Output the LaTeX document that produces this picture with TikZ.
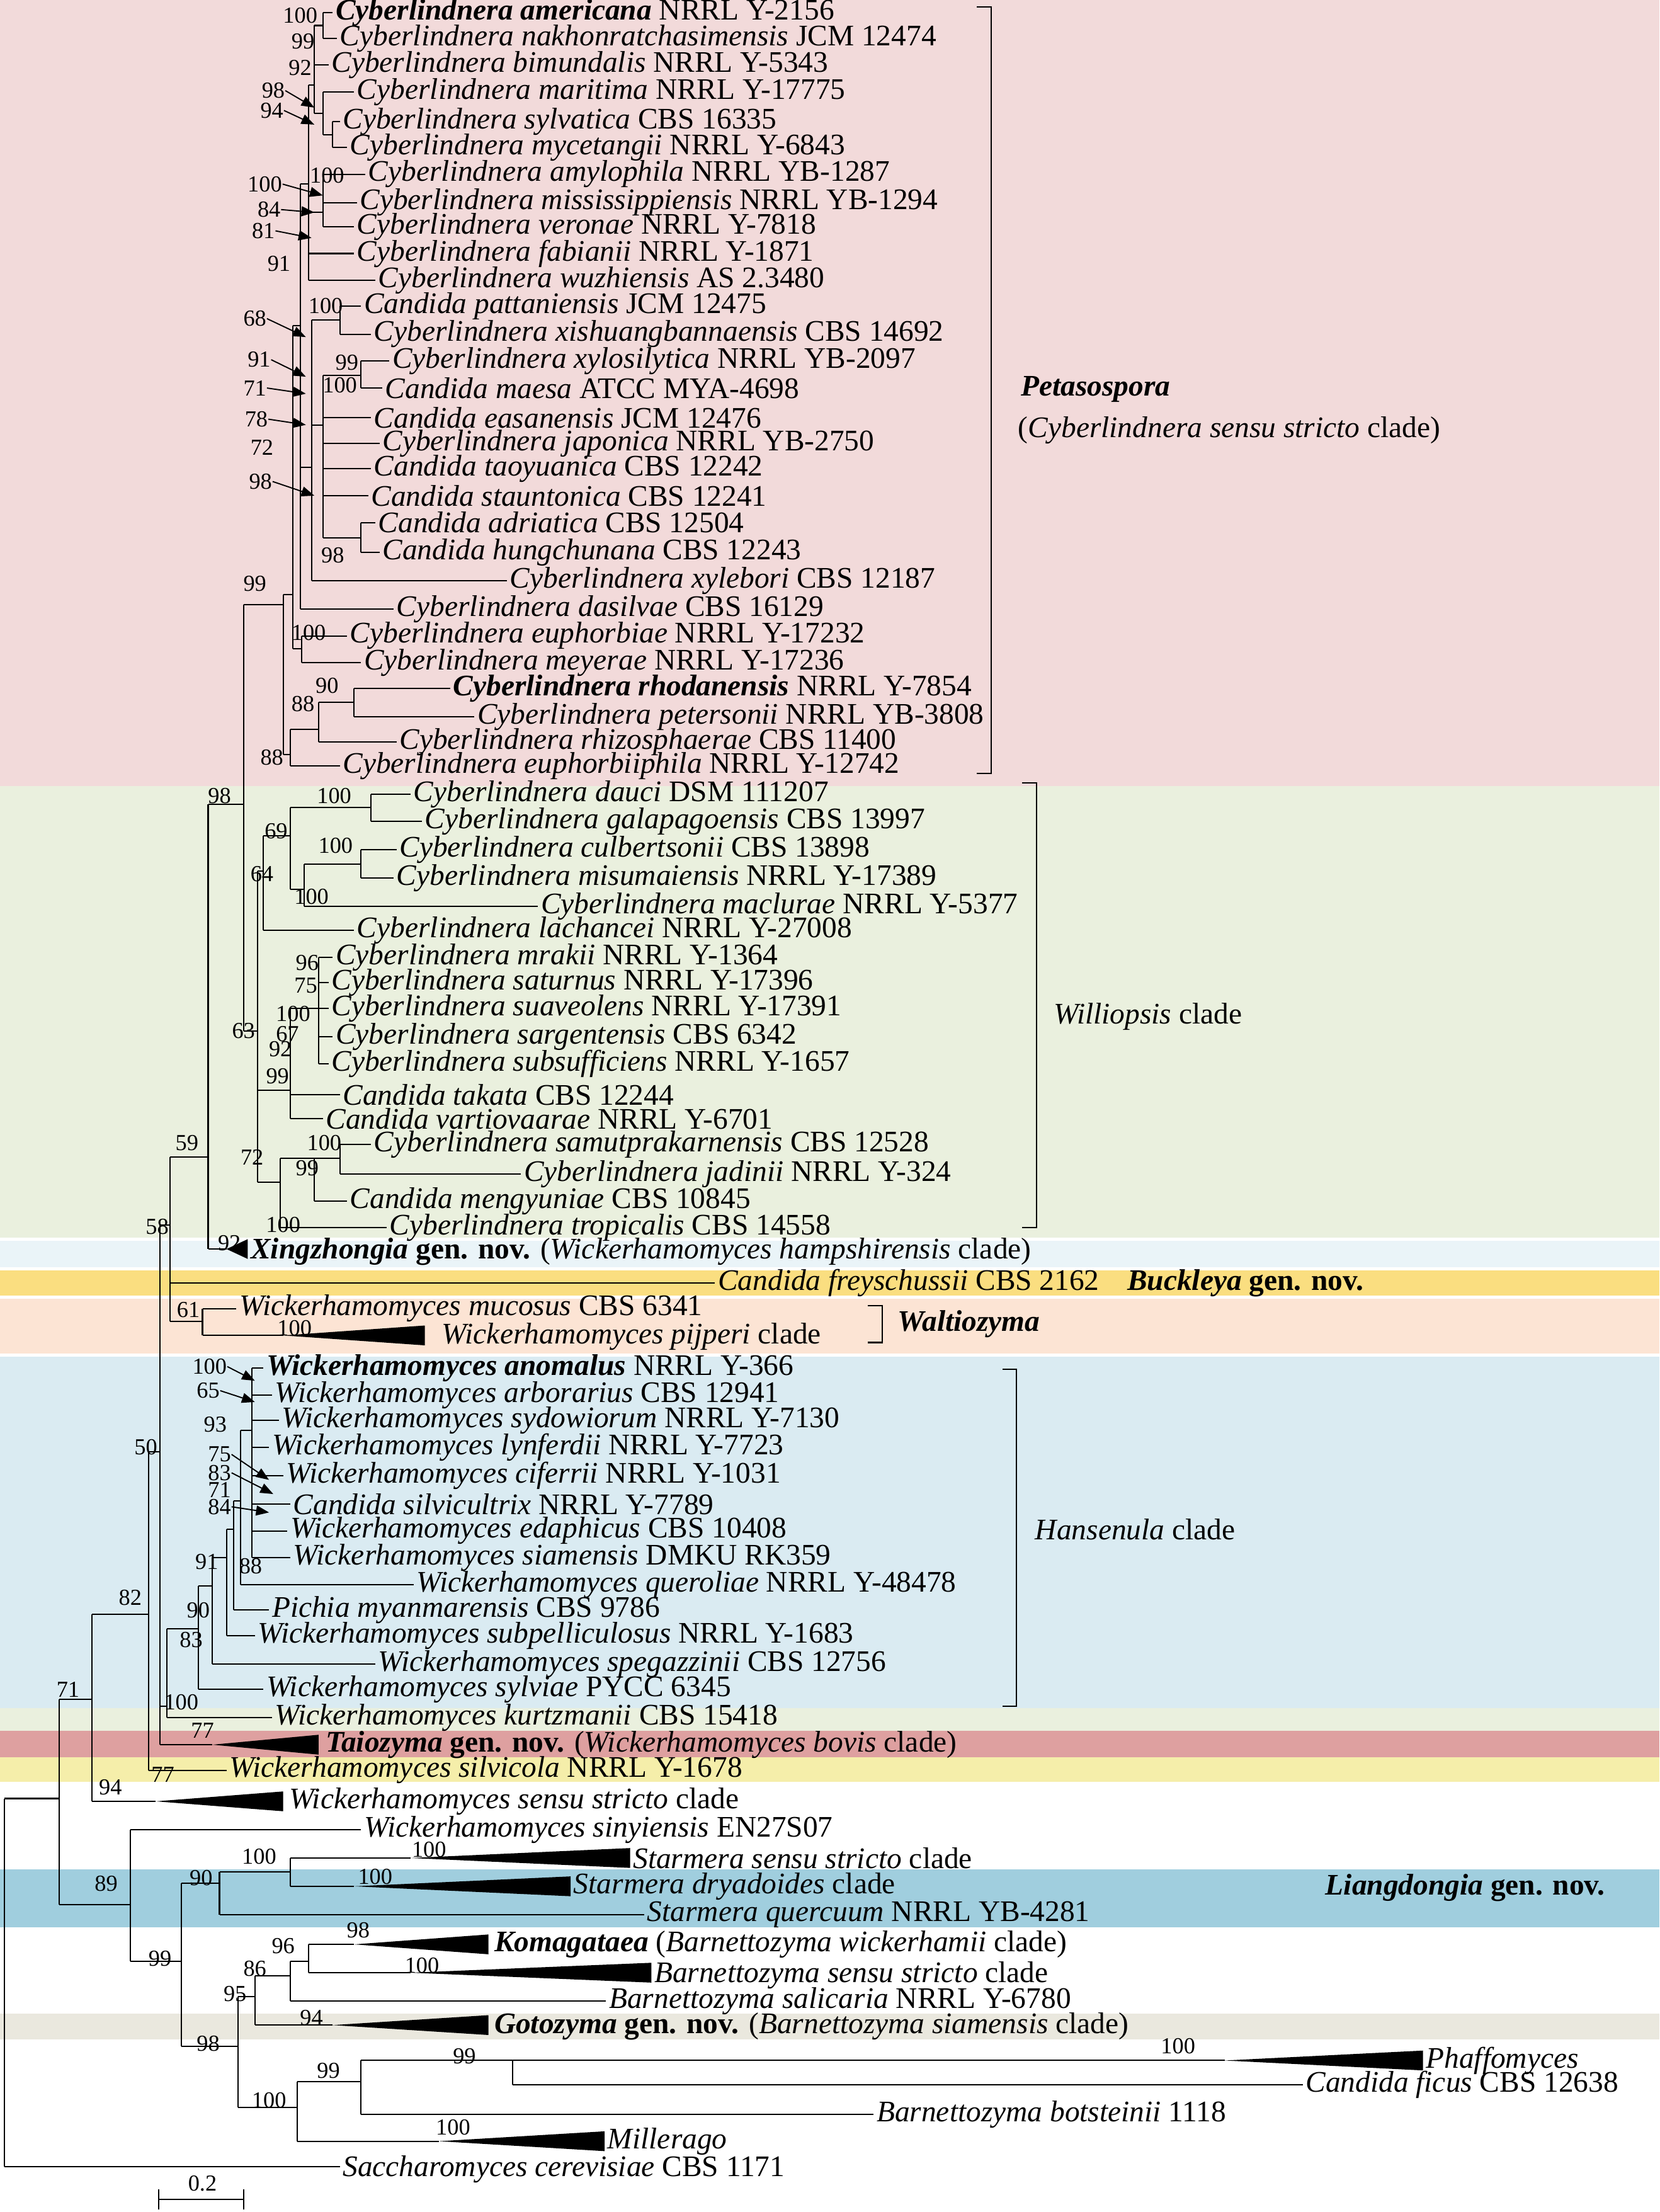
\documentclass[tikz,border=0pt]{standalone}
\usepackage{fontspec}
\setmainfont{Liberation Serif}
\usetikzlibrary{arrows.meta}
\definecolor{pinkbg}{RGB}{242,218,218}
\definecolor{greenbg}{RGB}{234,240,222}
\definecolor{xingbg}{RGB}{234,244,248}
\definecolor{buckbg}{RGB}{250,222,128}
\definecolor{peachbg}{RGB}{252,228,212}
\definecolor{bluebg}{RGB}{218,235,242}
\definecolor{redbg}{RGB}{222,160,160}
\definecolor{yelbg}{RGB}{245,238,170}
\definecolor{liangbg}{RGB}{160,206,222}
\definecolor{gotobg}{RGB}{234,232,222}
\newcommand\vln[3]{\draw (#1,#2)--(#1,#3);}
\newcommand\hln[3]{\draw (#1,#3)--(#2,#3);}
\newcommand\tri[3]{\fill (#1,#3)--(#2,#3-7)--(#2,#3+7)--cycle;}
\newcommand\tp[4]{\node[tip] (#1) at (#2+1,#3) {#4};}
\newcommand\bs[4]{\node[supp] (#1) at (#2,#3) {#4};}
\newcommand\spn[2]{\textit{#1} #2}
\newcommand\spb[2]{\textbf{\textit{#1}} #2}
\begin{document}
\begin{tikzpicture}[x=0.05cm,y=-0.05cm,line width=1.3pt,
  every node/.style={font=\fontsize{30}{32}\selectfont},
  tip/.style={anchor=west,inner sep=1pt},
  supp/.style={font=\fontsize{23}{25}\selectfont,inner sep=0pt},
  lab/.style={anchor=west,inner sep=1pt},
  arr/.style={-{Triangle[length=13pt,width=10pt]},line width=1.2pt}]
\useasboundingbox (0,0) rectangle (1172,1562);
% backgrounds
\fill[pinkbg] (0,0) rectangle (1172,555);
\fill[greenbg] (0,555) rectangle (1172,874);
\fill[xingbg] (0,876) rectangle (1172,895);
\fill[buckbg] (0,897) rectangle (1172,915);
\fill[peachbg] (0,917) rectangle (1172,956);
\fill[bluebg] (0,958) rectangle (1172,1206);
\fill[greenbg] (0,1206) rectangle (1172,1222);
\fill[redbg] (0,1222) rectangle (1172,1241);
\fill[yelbg] (0,1241) rectangle (1172,1258);
\fill[liangbg] (0,1320) rectangle (1172,1361);
\fill[gotobg] (0,1422) rectangle (1172,1440);
% backbone
\vln{3}{1270}{1530}\hln{3}{240}{1530}\hln{3}{42}{1270}
\vln{42}{1200}{1345}\hln{42}{65}{1200}\hln{42}{92}{1345}
\vln{65}{1140}{1272}\hln{65}{105}{1140}\hln{65}{110}{1272}\tri{110}{200}{1272}
\vln{105}{1025}{1250}\hln{105}{113}{1025}\hln{105}{160}{1250}
\vln{113}{865}{1232}\hln{113}{120}{865}\hln{113}{118}{1205}\hln{113}{150}{1232}\tri{150}{225}{1232}
\vln{120}{817}{933}\hln{120}{147}{817}\hln{120}{505}{906}\hln{120}{143}{933}
\vln{143}{924}{943}\hln{143}{167}{924}\hln{143}{200}{943}\tri{200}{300}{943}
\vln{147}{568}{882}\hln{147}{172}{568}\hln{147}{160}{882}\tri{160}{175}{882}
\vln{172}{427}{728}\hln{172}{200}{427}\hln{172}{182}{728}
% Petasospora
\vln{200}{420}{533}\hln{200}{207}{420}\hln{200}{205}{533}
\vln{205}{515}{541}\hln{205}{240}{541}\hln{205}{225}{515}
\vln{225}{496}{524}\hln{225}{280}{524}\hln{225}{250}{496}
\vln{250}{486}{506}\hln{250}{318}{486}\hln{250}{335}{506}
\vln{207}{230}{458}\hln{207}{213}{458}\hln{207}{212}{230}
\vln{213}{449}{468}\hln{213}{245}{449}\hln{213}{255}{468}
\vln{212}{130}{430}\hln{212}{278}{430}\hln{212}{218}{130}\hln{212}{220}{330}
\vln{218}{60}{198}\hln{218}{222}{60}\hln{218}{228}{150}\hln{218}{250}{179}\hln{218}{265}{198}
\vln{222}{18}{80}\hln{222}{228}{18}\hln{222}{232}{46}\hln{222}{228}{80}
\vln{228}{9}{27}\hln{228}{235}{9}\hln{228}{238}{27}
\vln{228}{65}{95}\hln{228}{250}{65}\hln{228}{235}{95}
\vln{235}{86}{104}\hln{235}{240}{86}\hln{235}{245}{104}
\vln{228}{123}{160}\hln{228}{258}{123}\hln{228}{252}{143}\hln{228}{250}{160}
\vln{220}{226}{410}\hln{220}{240}{226}\hln{220}{228}{300}\hln{220}{358}{410}
\vln{240}{216}{236}\hln{240}{255}{216}\hln{240}{262}{236}
\vln{228}{265}{380}\hln{228}{255}{265}\hln{228}{262}{295}\hln{228}{268}{313}\hln{228}{262}{331}\hln{228}{260}{350}\hln{228}{255}{380}
\vln{255}{255}{274}\hln{255}{275}{255}\hln{255}{270}{274}
\vln{255}{369}{390}\hln{255}{265}{369}\hln{255}{268}{390}
% Williopsis
\vln{182}{615}{835}\hln{182}{186}{615}\hln{182}{205}{770}\hln{182}{198}{835}
\vln{186}{590}{657}\hln{186}{205}{590}\hln{186}{250}{657}
\vln{205}{570}{628}\hln{205}{262}{570}\hln{205}{215}{628}
\vln{262}{561}{580}\hln{262}{290}{561}\hln{262}{298}{580}
\vln{215}{610}{640}\hln{215}{255}{610}\hln{215}{380}{640}
\vln{255}{600}{620}\hln{255}{280}{600}\hln{255}{278}{620}
\vln{205}{712}{790}\hln{205}{225}{712}\hln{205}{240}{773}\hln{205}{228}{790}
\vln{225}{676}{751}\hln{225}{235}{676}\hln{225}{232}{694}\hln{225}{232}{712}\hln{225}{235}{732}\hln{225}{232}{751}
\vln{198}{818}{867}\hln{198}{240}{818}\hln{198}{273}{867}
\vln{222}{818}{848}\hln{222}{245}{848}
\vln{240}{808}{829}\hln{240}{262}{808}\hln{240}{368}{829}
% Hansenula
\vln{118}{1150}{1213}\hln{118}{192}{1213}\hln{118}{140}{1150}
\vln{140}{1120}{1193}\hln{140}{186}{1193}\hln{140}{150}{1120}
\vln{150}{1100}{1175}\hln{150}{265}{1175}\hln{150}{160}{1100}
\vln{160}{1080}{1155}\hln{160}{180}{1155}\hln{160}{165}{1080}
\vln{165}{1060}{1137}\hln{165}{190}{1137}\hln{165}{170}{1060}
\vln{170}{1010}{1119}\hln{170}{292}{1119}\hln{170}{178}{1010}
\vln{178}{966}{1100}\hln{178}{186}{966}\hln{178}{192}{985}\hln{178}{197}{1003}\hln{178}{190}{1022}\hln{178}{200}{1042}\hln{178}{205}{1062}\hln{178}{203}{1081}\hln{178}{205}{1100}
% lower part
\vln{92}{1292}{1385}\hln{92}{255}{1292}\hln{92}{128}{1385}
\vln{128}{1330}{1445}\hln{128}{155}{1330}\hln{128}{168}{1445}
\vln{155}{1322}{1352}\hln{155}{205}{1322}\hln{155}{455}{1352}
\vln{205}{1312}{1332}\hln{205}{290}{1312}\tri{290}{445}{1312}\hln{205}{250}{1332}\tri{250}{403}{1332}
\vln{168}{1410}{1488}\hln{168}{180}{1410}\hln{168}{210}{1488}
\vln{180}{1395}{1430}\hln{180}{205}{1395}\hln{180}{235}{1430}\tri{235}{345}{1430}
\vln{205}{1385}{1413}\hln{205}{218}{1385}\hln{205}{428}{1413}
\vln{218}{1373}{1393}\hln{218}{250}{1373}\tri{250}{345}{1373}\hln{218}{290}{1393}\tri{290}{460}{1393}
\vln{210}{1470}{1512}\hln{210}{255}{1470}\hln{210}{310}{1512}\tri{310}{427}{1512}
\vln{255}{1455}{1493}\hln{255}{362}{1455}\hln{255}{617}{1493}
\vln{362}{1455}{1472}\hln{362}{865}{1455}\tri{865}{1005}{1455}\hln{362}{920}{1472}
% tips Petasospora
\tp{t1}{235}{9}{\spb{Cyberlindnera americana}{NRRL Y-2156}}
\tp{t2}{238}{27}{\spn{Cyberlindnera nakhonratchasimensis}{JCM 12474}}
\tp{t3}{232}{46}{\spn{Cyberlindnera bimundalis}{NRRL Y-5343}}
\tp{t4}{250}{65}{\spn{Cyberlindnera maritima}{NRRL Y-17775}}
\tp{t5}{240}{86}{\spn{Cyberlindnera sylvatica}{CBS 16335}}
\tp{t6}{245}{104}{\spn{Cyberlindnera mycetangii}{NRRL Y-6843}}
\tp{t7}{258}{123}{\spn{Cyberlindnera amylophila}{NRRL YB-1287}}
\tp{t8}{252}{143}{\spn{Cyberlindnera mississippiensis}{NRRL YB-1294}}
\tp{t9}{250}{160}{\spn{Cyberlindnera veronae}{NRRL Y-7818}}
\tp{t10}{250}{179}{\spn{Cyberlindnera fabianii}{NRRL Y-1871}}
\tp{t11}{265}{198}{\spn{Cyberlindnera wuzhiensis}{AS 2.3480}}
\tp{t12}{255}{216}{\spn{Candida pattaniensis}{JCM 12475}}
\tp{t13}{262}{236}{\spn{Cyberlindnera xishuangbannaensis}{CBS 14692}}
\tp{t14}{275}{255}{\spn{Cyberlindnera xylosilytica}{NRRL YB-2097}}
\tp{t15}{270}{274}{\spn{Candida maesa}{ATCC MYA-4698}}
\tp{t16}{262}{295}{\spn{Candida easanensis}{JCM 12476}}
\tp{t17}{268}{313}{\spn{Cyberlindnera japonica}{NRRL YB-2750}}
\tp{t18}{262}{331}{\spn{Candida taoyuanica}{CBS 12242}}
\tp{t19}{260}{350}{\spn{Candida stauntonica}{CBS 12241}}
\tp{t20}{265}{369}{\spn{Candida adriatica}{CBS 12504}}
\tp{t21}{268}{390}{\spn{Candida hungchunana}{CBS 12243}}
\tp{t22}{358}{410}{\spn{Cyberlindnera xylebori}{CBS 12187}}
\tp{t23}{278}{430}{\spn{Cyberlindnera dasilvae}{CBS 16129}}
\tp{t24}{245}{449}{\spn{Cyberlindnera euphorbiae}{NRRL Y-17232}}
\tp{t25}{255}{468}{\spn{Cyberlindnera meyerae}{NRRL Y-17236}}
\tp{t26}{318}{486}{\spb{Cyberlindnera rhodanensis}{NRRL Y-7854}}
\tp{t27}{335}{506}{\spn{Cyberlindnera petersonii}{NRRL YB-3808}}
\tp{t28}{280}{524}{\spn{Cyberlindnera rhizosphaerae}{CBS 11400}}
\tp{t29}{240}{541}{\spn{Cyberlindnera euphorbiiphila}{NRRL Y-12742}}
% tips Williopsis
\tp{w1}{290}{561}{\spn{Cyberlindnera dauci}{DSM 111207}}
\tp{w2}{298}{580}{\spn{Cyberlindnera galapagoensis}{CBS 13997}}
\tp{w3}{280}{600}{\spn{Cyberlindnera culbertsonii}{CBS 13898}}
\tp{w4}{278}{620}{\spn{Cyberlindnera misumaiensis}{NRRL Y-17389}}
\tp{w5}{380}{640}{\spn{Cyberlindnera maclurae}{NRRL Y-5377}}
\tp{w6}{250}{657}{\spn{Cyberlindnera lachancei}{NRRL Y-27008}}
\tp{w7}{235}{676}{\spn{Cyberlindnera mrakii}{NRRL Y-1364}}
\tp{w8}{232}{694}{\spn{Cyberlindnera saturnus}{NRRL Y-17396}}
\tp{w9}{232}{712}{\spn{Cyberlindnera suaveolens}{NRRL Y-17391}}
\tp{w10}{235}{732}{\spn{Cyberlindnera sargentensis}{CBS 6342}}
\tp{w11}{232}{751}{\spn{Cyberlindnera subsufficiens}{NRRL Y-1657}}
\tp{w12}{240}{773}{\spn{Candida takata}{CBS 12244}}
\tp{w13}{228}{790}{\spn{Candida vartiovaarae}{NRRL Y-6701}}
\tp{w14}{262}{808}{\spn{Cyberlindnera samutprakarnensis}{CBS 12528}}
\tp{w15}{368}{829}{\spn{Cyberlindnera jadinii}{NRRL Y-324}}
\tp{w16}{245}{848}{\spn{Candida mengyuniae}{CBS 10845}}
\tp{w17}{273}{867}{\spn{Cyberlindnera tropicalis}{CBS 14558}}
% middle
\tp{x1}{175}{884}{\textbf{\textit{Xingzhongia} gen. nov.} (\textit{Wickerhamomyces hampshirensis} clade)}
\tp{x2}{505}{906}{\spn{Candida freyschussii}{CBS 2162}}
\node[lab] (buck) at (795,906) {\textbf{\textit{Buckleya} gen. nov.}};
\tp{x3}{167}{924}{\spn{Wickerhamomyces mucosus}{CBS 6341}}
\tp{x4}{310}{944}{\textit{Wickerhamomyces pijperi} clade}
% Hansenula tips
\tp{h1}{186}{966}{\spb{Wickerhamomyces anomalus}{NRRL Y-366}}
\tp{h2}{192}{985}{\spn{Wickerhamomyces arborarius}{CBS 12941}}
\tp{h3}{197}{1003}{\spn{Wickerhamomyces sydowiorum}{NRRL Y-7130}}
\tp{h4}{190}{1022}{\spn{Wickerhamomyces lynferdii}{NRRL Y-7723}}
\tp{h5}{200}{1042}{\spn{Wickerhamomyces ciferrii}{NRRL Y-1031}}
\tp{h6}{205}{1062}{\spn{Candida silvicultrix}{NRRL Y-7789}}
\tp{h7}{203}{1081}{\spn{Wickerhamomyces edaphicus}{CBS 10408}}
\tp{h8}{205}{1100}{\spn{Wickerhamomyces siamensis}{DMKU RK359}}
\tp{h9}{292}{1119}{\spn{Wickerhamomyces queroliae}{NRRL Y-48478}}
\tp{h10}{190}{1137}{\spn{Pichia myanmarensis}{CBS 9786}}
\tp{h11}{180}{1155}{\spn{Wickerhamomyces subpelliculosus}{NRRL Y-1683}}
\tp{h12}{265}{1175}{\spn{Wickerhamomyces spegazzinii}{CBS 12756}}
\tp{h13}{186}{1193}{\spn{Wickerhamomyces sylviae}{PYCC 6345}}
\tp{h14}{192}{1213}{\spn{Wickerhamomyces kurtzmanii}{CBS 15418}}
\tp{l1}{228}{1232}{\textbf{\textit{Taiozyma} gen. nov.} (\textit{Wickerhamomyces bovis} clade)}
\tp{l2}{160}{1250}{\spn{Wickerhamomyces silvicola}{NRRL Y-1678}}
\tp{l3}{202}{1272}{\textit{Wickerhamomyces sensu stricto} clade}
\tp{l4}{255}{1292}{\spn{Wickerhamomyces sinyiensis}{EN27S07}}
\tp{l5}{445}{1312}{\textit{Starmera sensu stricto} clade}
\tp{l6}{403}{1332}{\textit{Starmera dryadoides} clade}
\tp{l7}{455}{1352}{\spn{Starmera quercuum}{NRRL YB-4281}}
\node[lab] (liang) at (935,1333) {\textbf{\textit{Liangdongia} gen. nov.}};
\tp{l8}{347}{1373}{\textbf{\textit{Komagataea}} (\textit{Barnettozyma wickerhamii} clade)}
\tp{l9}{460}{1395}{\textit{Barnettozyma sensu stricto} clade}
\tp{l10}{428}{1413}{\spn{Barnettozyma salicaria}{NRRL Y-6780}}
\tp{l11}{347}{1431}{\textbf{\textit{Gotozyma} gen. nov.} (\textit{Barnettozyma siamensis} clade)}
\tp{l12}{1005}{1455}{\textit{Phaffomyces}}
\tp{l13}{920}{1472}{\spn{Candida ficus}{CBS 12638}}
\tp{l14}{617}{1493}{\spn{Barnettozyma botsteinii}{1118}}
\tp{l15}{427}{1512}{\textit{Millerago}}
\tp{l16}{240}{1532}{\spn{Saccharomyces cerevisiae}{CBS 1171}}
% brackets
\draw (690,5)--(700,5)--(700,546)--(690,546);
\node[lab] (pet1) at (720,275) {\textbf{\textit{Petasospora}}};
\node[lab] (pet2) at (718,304) {(\textit{Cyberlindnera sensu stricto} clade)};
\draw (722,553)--(732,553)--(732,867)--(722,867);
\node[lab] (will) at (743,718) {\textit{Williopsis} clade};
\draw (613,922)--(623,922)--(623,948)--(613,948);
\node[lab] (walt) at (633,935) {\textbf{\textit{Waltiozyma}}};
\draw (708,967)--(718,967)--(718,1205)--(708,1205);
\node[lab] (hans) at (730,1080) {\textit{Hansenula} clade};
% scale bar
\draw (112,1553)--(172,1553) (112,1546)--(112,1560) (172,1546)--(172,1560);
\node[supp] (scale) at (143,1542) {0.2};
% supports Petasospora
\bs{s1}{212}{11}{100}\bs{s2}{214}{29}{99}\bs{s3}{212}{48}{92}
\bs{s4}{193}{64}{98}\bs{s5}{192}{78}{94}\bs{s6}{187}{130}{100}
\bs{s7}{190}{148}{84}\bs{s8}{186}{163}{81}\bs{s9}{197}{186}{91}
\bs{s10}{180}{225}{68}\bs{s11}{183}{254}{91}\bs{s12}{180}{274}{71}
\bs{s13}{181}{296}{78}\bs{s14}{185}{316}{72}\bs{s15}{184}{340}{98}
\bs{s16}{230}{216}{100}\bs{s17}{245}{256}{99}\bs{s18}{240}{272}{100}
\bs{s19}{235}{392}{98}\bs{s20}{180}{412}{99}\bs{s21}{218}{447}{100}
\bs{s22}{231}{484}{90}\bs{s23}{214}{497}{88}\bs{s24}{192}{535}{88}
\bs{s25}{155}{562}{98}\bs{s26}{231}{124}{100}
% supports Williopsis
\bs{u1}{236}{562}{100}\bs{u2}{195}{587}{69}\bs{u3}{237}{597}{100}
\bs{u4}{185}{617}{64}\bs{u5}{220}{633}{100}\bs{u6}{217}{680}{96}
\bs{u7}{216}{696}{75}\bs{u8}{207}{716}{100}\bs{u9}{203}{730}{67}
\bs{u10}{198}{741}{92}\bs{u11}{196}{760}{99}\bs{u12}{172}{728}{63}
\bs{u13}{229}{807}{100}\bs{u14}{217}{825}{99}\bs{u15}{178}{817}{72}
\bs{u16}{200}{865}{100}\bs{u17}{132}{807}{59}\bs{u18}{111}{866}{58}
\bs{u19}{162}{878}{92}\bs{u20}{133}{925}{61}\bs{u21}{208}{938}{100}
% supports Hansenula & lower
\bs{v1}{148}{965}{100}\bs{v2}{147}{982}{65}\bs{v3}{152}{1006}{93}
\bs{v4}{155}{1027}{75}\bs{v5}{155}{1040}{83}\bs{v6}{155}{1052}{71}
\bs{v7}{155}{1064}{84}\bs{v8}{146}{1103}{91}\bs{v9}{177}{1106}{88}
\bs{v10}{140}{1137}{90}\bs{v11}{135}{1158}{83}\bs{v12}{128}{1202}{100}
\bs{v13}{103}{1022}{50}\bs{v14}{143}{1222}{77}\bs{v15}{115}{1253}{77}
\bs{v16}{92}{1128}{82}\bs{v17}{48}{1193}{71}\bs{v18}{78}{1262}{94}
\bs{v19}{75}{1330}{89}\bs{v20}{113}{1383}{99}\bs{v21}{142}{1326}{90}
\bs{v22}{183}{1311}{100}\bs{v23}{303}{1306}{100}\bs{v24}{265}{1325}{100}
\bs{v25}{253}{1363}{98}\bs{v26}{200}{1374}{96}\bs{v27}{298}{1388}{100}
\bs{v28}{180}{1390}{86}\bs{v29}{166}{1408}{95}\bs{v30}{220}{1425}{94}
\bs{v31}{147}{1443}{98}\bs{v32}{832}{1445}{100}\bs{v33}{328}{1452}{99}
\bs{v34}{232}{1462}{99}\bs{v35}{190}{1483}{100}\bs{v36}{320}{1502}{100}
% arrows
\coordinate (a4) at (222,76);\coordinate (a5) at (222,88);
\coordinate (a6) at (228,138);\coordinate (a7) at (222,150);
\coordinate (a8) at (220,168);\coordinate (a10) at (216,238);
\coordinate (a11) at (216,266);\coordinate (a12) at (216,278);
\coordinate (a13) at (216,300);\coordinate (a15) at (222,350);
\draw[arr] (s4.east)--(a4);\draw[arr] (s5.east)--(a5);
\draw[arr] (s6.east)--(a6);\draw[arr] (s7.east)--(a7);
\draw[arr] (s8.east)--(a8);\draw[arr] (s10.east)--(a10);
\draw[arr] (s11.east)--(a11);\draw[arr] (s12.east)--(a12);
\draw[arr] (s13.east)--(a13);\draw[arr] (s15.east)--(a15);
\coordinate (b1) at (180,975);\coordinate (b2) at (180,990);
\coordinate (b4) at (190,1045);\coordinate (b5) at (193,1055);\coordinate (b7) at (190,1068);
\draw[arr] (v1.east)--(b1);\draw[arr] (v2.east)--(b2);
\draw[arr] (v4.east)--(b4);\draw[arr] (v5.east)--(b5);\draw[arr] (v7.east)--(b7);
\end{tikzpicture}
\end{document}
